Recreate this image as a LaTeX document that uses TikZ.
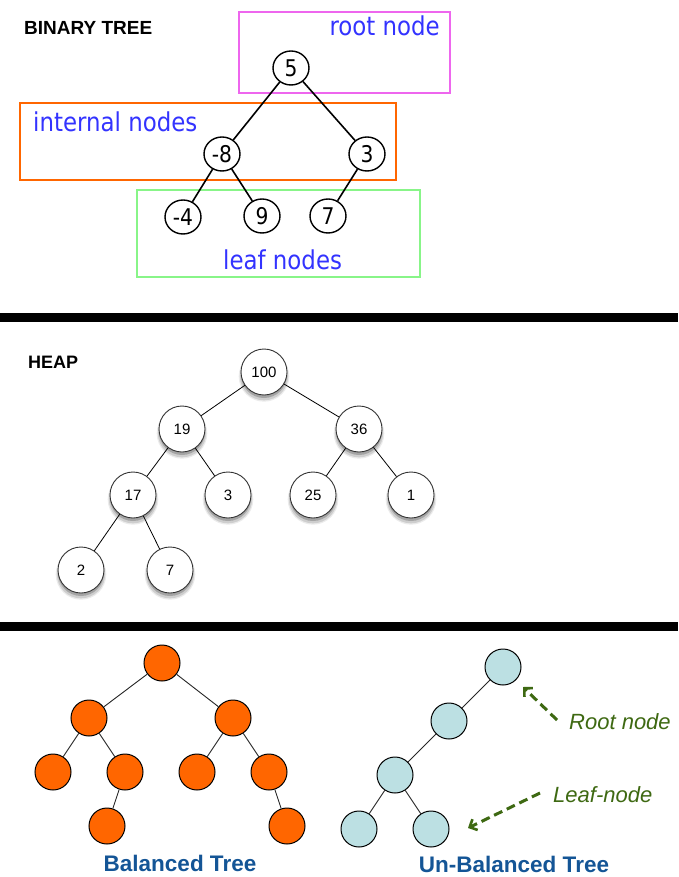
\documentclass[tikz,border=0pt]{standalone}
\usepackage{fontspec}
\setmainfont{Liberation Sans}
\newfontfamily\tahomaish[FakeStretch=0.88]{DejaVu Sans}
\usepackage{tikz}
\usetikzlibrary{arrows.meta, shapes.geometric, shadows}
\usepackage{xcolor}
\definecolor{lblblue}{RGB}{51,51,255}
\definecolor{boxpink}{RGB}{238,102,238}
\definecolor{boxorange}{RGB}{255,102,0}
\definecolor{boxgreen}{RGB}{136,245,136}
\definecolor{balorange}{RGB}{255,102,0}
\definecolor{unbalblue}{RGB}{188,224,227}
\definecolor{ttlblue}{RGB}{20,85,150}
\definecolor{arrgreen}{RGB}{62,105,18}
\tikzset{
    bnode/.style={ellipse, draw, line width=1.4, fill=white, minimum width=36, minimum height=34,
                  inner sep=0pt, font=\tahomaish\fontsize{23}{23}\selectfont},
    bedge/.style={line width=1.6},
    area/.style={line width=2},
    arealbl/.style={text=lblblue, inner sep=0pt, font=\tahomaish\fontsize{26}{26}\selectfont},
    hnode/.style={circle, draw=black!80, line width=0.9, fill=white, minimum size=46, inner sep=0pt,
                  font=\fontsize{15}{15}\selectfont,
                  drop shadow={shadow xshift=0pt, shadow yshift=-4pt, shadow scale=1.1, opacity=0.08, fill=black},
                  drop shadow={shadow xshift=0pt, shadow yshift=-4pt, shadow scale=1.05, opacity=0.12, fill=black},
                  drop shadow={shadow xshift=0pt, shadow yshift=-3pt, opacity=0.2, fill=black}},
    hedge/.style={line width=0.8},
    section/.style={inner sep=0pt, font=\bfseries\fontsize{18}{18}\selectfont},
    balnode/.style={circle, draw, line width=1, fill=balorange, minimum size=36, inner sep=0pt},
    unbalnode/.style={balnode, fill=unbalblue},
    tedge/.style={line width=0.9, black!85},
    treettl/.style={text=ttlblue, inner sep=0pt, font=\bfseries\fontsize{22.5}{22.5}\selectfont},
    pointer/.style={-{Straight Barb[length=6pt, width=12pt, line width=2.6pt]}, line width=3, arrgreen,
                    dash pattern=on 9pt off 5pt},
    ptrlbl/.style={text=arrgreen, inner sep=0pt, font=\itshape\fontsize{22}{22}\selectfont},
}

\begin{document}
\begin{tikzpicture}[x=1pt, y=-1pt]
    \useasboundingbox[fill=white] (0,0) rectangle (678,877);
    % --- binary tree ---
    \node[section, anchor=base west, font=\bfseries\fontsize{19}{19}\selectfont] (bttl) at (24,35) {BINARY TREE};
    \draw[area, boxpink] (239,12) rectangle (450,93);
    \draw[area, boxorange] (20,103) rectangle (396,180);
    \draw[area, boxgreen] (137,190) rectangle (420,277);
    \node[arealbl, anchor=base east] (rootlbl) at (440,36) {root node};
    \node[arealbl, anchor=base west] (intlbl) at (33,132) {internal nodes};
    \node[arealbl, anchor=base west] (leaflbl) at (223,269) {leaf nodes};
    \node[bnode] (b5) at (291,68) {5};
    \node[bnode] (bm8) at (222,154) {-8};
    \node[bnode] (b3) at (367,154) {3};
    \node[bnode] (bm4) at (183,217) {-4};
    \node[bnode] (b9) at (262,216) {9};
    \node[bnode] (b7) at (328,216) {7};
    \foreach \a/\b in {b5/bm8, b5/b3, bm8/bm4, bm8/b9, b3/b7}
        \draw[bedge] (\a) -- (\b);
    \fill (0,313) rectangle (678,322);
    % --- heap ---
    \node[section, anchor=base west] (httl) at (28,368) {HEAP};
    \node[hnode] (h100) at (264,372) {100};
    \node[hnode] (h19) at (182,429) {19};
    \node[hnode] (h36) at (359,429) {36};
    \node[hnode] (h17) at (133,495) {17};
    \node[hnode] (h3) at (228,495) {3};
    \node[hnode] (h25) at (313,495) {25};
    \node[hnode] (h1) at (411,495) {1};
    \node[hnode] (h2) at (81,570) {2};
    \node[hnode] (h7) at (170,570) {7};
    \foreach \a/\b in {h100/h19, h100/h36, h19/h17, h19/h3, h36/h25, h36/h1, h17/h2, h17/h7}
        \draw[hedge] (\a) -- (\b);
    \fill (0,622) rectangle (678,631);
    % --- balanced / unbalanced ---
    \node[balnode] (t0) at (162,663) {};
    \node[balnode] (t1) at (89,718) {};
    \node[balnode] (t2) at (233,718) {};
    \node[balnode] (t3) at (53,772) {};
    \node[balnode] (t4) at (125,772) {};
    \node[balnode] (t5) at (197,772) {};
    \node[balnode] (t6) at (269,772) {};
    \node[balnode] (t7) at (107,826) {};
    \node[balnode] (t8) at (287,826) {};
    \foreach \a/\b in {t0/t1, t0/t2, t1/t3, t1/t4, t2/t5, t2/t6, t4/t7, t6/t8}
        \draw[tedge] (\a) -- (\b);
    \node[treettl, anchor=base] (balttl) at (180,871) {Balanced Tree};
    \node[unbalnode] (u0) at (503,667) {};
    \node[unbalnode] (u1) at (449,721) {};
    \node[unbalnode] (u2) at (395,775) {};
    \node[unbalnode] (u3) at (359,829) {};
    \node[unbalnode] (u4) at (431,829) {};
    \foreach \a/\b in {u0/u1, u1/u2, u2/u3, u2/u4}
        \draw[tedge] (\a) -- (\b);
    \node[treettl, anchor=base] (unbalttl) at (514,872) {Un-Balanced Tree};
    \node[ptrlbl, anchor=base west] (rootptr) at (569,729) {Root node};
    \node[ptrlbl, anchor=base west] (leafptr) at (553,802) {Leaf-node};
    \coordinate (rootfrom) at (557,720);
    \coordinate (rootto) at (523,687);
    \coordinate (leaffrom) at (540,793);
    \coordinate (leafto) at (468,828);
    \draw[pointer] (rootfrom) -- (rootto);
    \draw[pointer] (leaffrom) -- (leafto);
\end{tikzpicture}
\end{document}
